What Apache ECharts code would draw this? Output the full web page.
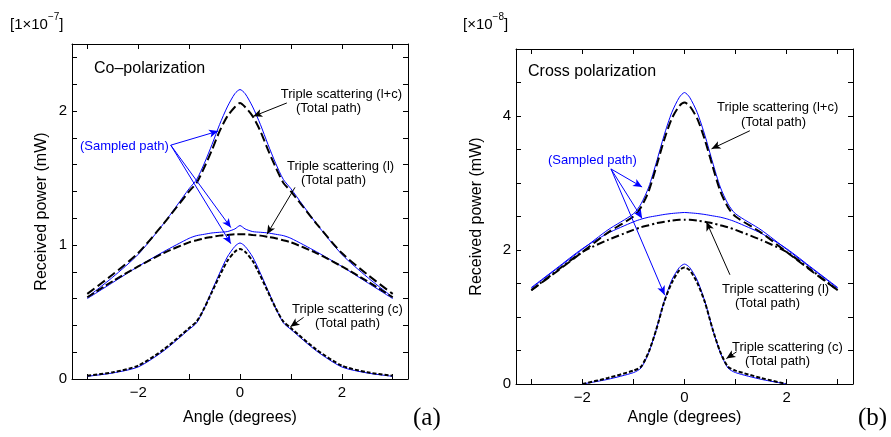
<!DOCTYPE html>
<html>
<head>
<meta charset="utf-8">
<title>Triple scattering</title>
<script src="https://cdn.jsdelivr.net/npm/echarts@6/dist/echarts.min.js"></script>
<style>
  html, body { margin: 0; padding: 0; background: #fff; }
  #main { width: 891px; height: 437px; }
</style>
</head>
<body>
<div id="main"></div>
<script>
// angle grid (degrees), shared by both panels
var angles = [-3, -2.5, -2, -1.5, -1, -0.85, -0.7, -0.55, -0.4, -0.25, -0.1, 0,
              0.1, 0.25, 0.4, 0.55, 0.7, 0.85, 1, 1.5, 2, 2.5, 3];

// (a) co-polarization, x1e-7 mW
var coLcTotal   = [0.635, 0.78, 0.94, 1.16, 1.40, 1.465, 1.58, 1.71, 1.85, 1.96, 2.03, 2.06,
                   2.03, 1.96, 1.85, 1.71, 1.58, 1.465, 1.40, 1.16, 0.94, 0.78, 0.635];
var coLcSampled = [0.61, 0.76, 0.93, 1.16, 1.42, 1.49, 1.61, 1.75, 1.90, 2.03, 2.13, 2.16,
                   2.13, 2.03, 1.90, 1.75, 1.61, 1.49, 1.42, 1.16, 0.93, 0.76, 0.61];
var coLTotal    = [0.61, 0.73, 0.84, 0.94, 1.02, 1.035, 1.05, 1.06, 1.07, 1.075, 1.08, 1.08,
                   1.08, 1.075, 1.07, 1.06, 1.05, 1.035, 1.02, 0.94, 0.84, 0.73, 0.61];
var coLSampled  = [0.60, 0.72, 0.84, 0.95, 1.05, 1.07, 1.08, 1.09, 1.095, 1.10, 1.12, 1.145,
                   1.12, 1.10, 1.095, 1.09, 1.08, 1.07, 1.05, 0.95, 0.84, 0.72, 0.60];
var coCTotal    = [0.025, 0.05, 0.10, 0.22, 0.38, 0.43, 0.53, 0.65, 0.77, 0.88, 0.95, 0.97,
                   0.95, 0.88, 0.77, 0.65, 0.53, 0.43, 0.38, 0.22, 0.10, 0.05, 0.025];
var coCSampled  = [0.02, 0.045, 0.09, 0.21, 0.37, 0.42, 0.53, 0.66, 0.79, 0.91, 0.99, 1.015,
                   0.99, 0.91, 0.79, 0.66, 0.53, 0.42, 0.37, 0.21, 0.09, 0.045, 0.02];

// (b) cross polarization, x1e-8 mW
var crLcTotal   = [1.40, 1.68, 1.97, 2.26, 2.50, 2.64, 2.88, 3.25, 3.64, 3.96, 4.15, 4.20,
                   4.15, 3.96, 3.64, 3.25, 2.88, 2.64, 2.50, 2.26, 1.97, 1.68, 1.40];
var crLcSampled = [1.43, 1.72, 2.01, 2.30, 2.54, 2.69, 2.94, 3.31, 3.71, 4.05, 4.28, 4.35,
                   4.28, 4.05, 3.71, 3.31, 2.94, 2.69, 2.54, 2.30, 2.01, 1.72, 1.43];
var crLTotal    = [1.40, 1.69, 1.97, 2.15, 2.30, 2.34, 2.37, 2.40, 2.42, 2.44, 2.45, 2.45,
                   2.45, 2.44, 2.42, 2.40, 2.37, 2.34, 2.30, 2.15, 1.97, 1.69, 1.40];
var crLSampled  = [1.44, 1.73, 2.02, 2.25, 2.42, 2.46, 2.49, 2.51, 2.53, 2.545, 2.555, 2.56,
                   2.555, 2.545, 2.53, 2.51, 2.49, 2.46, 2.42, 2.25, 2.02, 1.73, 1.44];
var crCTotal    = [null, null, 0.0, 0.09, 0.20, 0.26, 0.48, 0.82, 1.22, 1.51, 1.70, 1.74,
                   1.70, 1.51, 1.22, 0.82, 0.48, 0.26, 0.20, 0.09, 0.0, null, null];
var crCSampled  = [null, null, 0.0, 0.07, 0.17, 0.24, 0.47, 0.82, 1.23, 1.55, 1.74, 1.79,
                   1.74, 1.55, 1.23, 0.82, 0.47, 0.24, 0.17, 0.07, 0.0, null, null];

var xTicks = [-3, -2, -1, 0, 1, 2, 3];
var xLabels = [-2, 0, 2];

var FONT = 'Liberation Sans, Arial, sans-serif';
var BLUE = '#0000ff';

function pairs(xs, ys) {
    var out = [];
    for (var i = 0; i < xs.length; i++) {
        if (ys[i] !== null) out.push([xs[i], ys[i]]);
    }
    return out;
}

function minus(v) {
    return String(v).replace('-', '\u2212');
}

function curve(name, g, ys, color, width, dash) {
    return {
        name: name,
        type: 'line',
        xAxisIndex: g * 2,
        yAxisIndex: g * 2,
        data: pairs(angles, ys),
        smooth: 0.25,
        showSymbol: false,
        symbol: 'none',
        silent: true,
        lineStyle: { color: color, width: width, type: dash },
        z: color === BLUE ? 2 : 3
    };
}

function arrows(g, color, list) {
    return {
        type: 'line',
        xAxisIndex: g * 2,
        yAxisIndex: g * 2,
        data: [],
        silent: true,
        markLine: {
            silent: true,
            symbol: ['none', 'arrow'],
            symbolSize: [6, 9],
            label: { show: false },
            lineStyle: { color: color, width: 1, type: 'solid' },
            emphasis: { disabled: true },
            animation: false,
            data: list.map(function (a) {
                return [{ coord: a[0] }, { coord: a[1] }];
            })
        },
        z: 5
    };
}

var axisLineStyle = { show: true, onZero: false, lineStyle: { color: '#000', width: 1 } };

function xAxes(g, nameGap) {
    return [{
        gridIndex: g, type: 'value', min: -3.3, max: 3.3, position: 'bottom',
        name: 'Angle (degrees)', nameLocation: 'middle', nameGap: nameGap,
        nameTextStyle: { fontFamily: FONT, fontSize: 16, color: '#000' },
        axisLine: axisLineStyle,
        axisTick: { inside: true, length: 5, customValues: xTicks, lineStyle: { color: '#000' } },
        axisLabel: { customValues: xLabels, formatter: minus, fontFamily: FONT, fontSize: 15, color: '#000', margin: 6 },
        splitLine: { show: false }
    }, {
        gridIndex: g, type: 'value', min: -3.3, max: 3.3, position: 'top',
        axisLine: axisLineStyle,
        axisTick: { inside: true, length: 5, customValues: xTicks, lineStyle: { color: '#000' } },
        axisLabel: { show: false },
        splitLine: { show: false }
    }];
}

function yAxes(g, max, ticks, labels, nameGap) {
    return [{
        gridIndex: g, type: 'value', min: 0, max: max, position: 'left',
        name: 'Received power (mW)', nameLocation: 'middle', nameGap: nameGap,
        nameTextStyle: { fontFamily: FONT, fontSize: 16, color: '#000' },
        axisLine: axisLineStyle,
        axisTick: { show: true, inside: true, length: 5, customValues: ticks, lineStyle: { color: '#000' } },
        axisLabel: { customValues: labels, fontFamily: FONT, fontSize: 15, color: '#000', margin: 5 },
        splitLine: { show: false }
    }, {
        gridIndex: g, type: 'value', min: 0, max: max, position: 'right',
        axisLine: axisLineStyle,
        axisTick: { show: true, inside: true, length: 5, customValues: ticks, lineStyle: { color: '#000' } },
        axisLabel: { show: false },
        splitLine: { show: false }
    }];
}

function txt(x, y, s, size, color, align, family) {
    return {
        type: 'text', x: x, y: y, silent: true,
        style: {
            text: s, fill: color || '#000', fontSize: size, fontFamily: family || FONT,
            textAlign: align || 'left', textVerticalAlign: 'middle'
        }
    };
}

function unitLabel(x, y, head, exp) {
    return {
        type: 'text', x: x, y: y, silent: true,
        style: {
            text: '{b|' + head + '}{s|' + exp + '}{b|]}',
            textVerticalAlign: 'middle',
            rich: {
                b: { fontSize: 15, fontFamily: FONT, fill: '#000', lineHeight: 20, verticalAlign: 'bottom' },
                s: { fontSize: 10, fontFamily: FONT, fill: '#000', lineHeight: 20, verticalAlign: 'top' }
            }
        }
    };
}

var coTicks = [0, 0.2, 0.4, 0.6, 0.8, 1, 1.2, 1.4, 1.6, 1.8, 2, 2.2, 2.4];
var crTicks = [0, 0.5, 1, 1.5, 2, 2.5, 3, 3.5, 4, 4.5, 5];

var option = {
    animation: false,
    backgroundColor: '#fff',
    grid: [
        { left: 72, top: 44, width: 336, height: 335 },
        { left: 516, top: 49, width: 337, height: 335 }
    ],
    xAxis: xAxes(0, 31).concat(xAxes(1, 26)),
    yAxis: yAxes(0, 2.5, coTicks, [0, 1, 2], 22).concat(yAxes(1, 5, crTicks, [0, 2, 4], 31)),
    series: [
        curve('(l+c) sampled', 0, coLcSampled, BLUE, 1, 'solid'),
        curve('(l) sampled', 0, coLSampled, BLUE, 1, 'solid'),
        curve('(c) sampled', 0, coCSampled, BLUE, 1, 'solid'),
        curve('(l+c) total', 0, coLcTotal, '#000', 2, [9, 4]),
        curve('(l) total', 0, coLTotal, '#000', 2, [8, 3]),
        curve('(c) total', 0, coCTotal, '#000', 2, [4, 2]),

        curve('(l+c) sampled', 1, crLcSampled, BLUE, 1, 'solid'),
        curve('(l) sampled', 1, crLSampled, BLUE, 1, 'solid'),
        curve('(c) sampled', 1, crCSampled, BLUE, 1, 'solid'),
        curve('(l+c) total', 1, crLcTotal, '#000', 2, [9, 4]),
        curve('(l) total', 1, crLTotal, '#000', 2, [8, 3, 2, 3]),
        curve('(c) total', 1, crCTotal, '#000', 2, [4, 2]),

        arrows(0, BLUE, [
            [[-1.36, 1.745], [-0.43, 1.85]],
            [[-1.36, 1.745], [-0.18, 1.13]],
            [[-1.36, 1.745], [-0.18, 1.01]]
        ]),
        arrows(0, '#000', [
            [[0.92, 2.06], [0.26, 1.96]],
            [[1.08, 1.43], [0.53, 1.08]],
            [[1.25, 0.46], [0.99, 0.39]]
        ]),
        arrows(1, BLUE, [
            [[-1.44, 3.21], [-0.83, 2.94]],
            [[-1.44, 3.21], [-0.83, 2.47]],
            [[-1.44, 3.21], [-0.39, 1.33]]
        ]),
        arrows(1, '#000', [
            [[1.28, 3.78], [0.53, 3.51]],
            [[0.89, 1.63], [0.43, 2.42]],
            [[1.02, 0.48], [0.82, 0.38]]
        ])
    ],
    graphic: [
        unitLabel(10, 22, '[1\u00d710', '\u22127'),
        txt(94, 69, 'Co\u2013polarization', 16),
        txt(80, 146, '(Sampled path)', 13, BLUE),
        txt(402, 94, 'Triple scattering (l+c)', 13, '#000', 'right'),
        txt(296, 108, '(Total path)', 13),
        txt(287, 166, 'Triple scattering (l)', 13),
        txt(301, 180, '(Total path)', 13),
        txt(292, 309, 'Triple scattering (c)', 13),
        txt(315, 323, '(Total path)', 13),
        txt(413, 418, '(a)', 25, '#000', 'left', 'Liberation Serif, Times New Roman, serif'),

        unitLabel(463, 22, '[\u00d710', '\u22128'),
        txt(528, 72, 'Cross polarization', 16),
        txt(548, 160, '(Sampled path)', 13, BLUE),
        txt(717, 107, 'Triple scattering (l+c)', 13),
        txt(741, 122, '(Total path)', 13),
        txt(722, 289, 'Triple scattering (l)', 13),
        txt(735, 303, '(Total path)', 13),
        txt(732, 347, 'Triple scattering (c)', 13),
        txt(745, 361, '(Total path)', 13),
        txt(858, 418, '(b)', 25, '#000', 'left', 'Liberation Serif, Times New Roman, serif')
    ]
};

var myChart = echarts.init(document.getElementById('main'), null, { renderer: 'canvas' });
myChart.setOption(option);
</script>
</body>
</html>
